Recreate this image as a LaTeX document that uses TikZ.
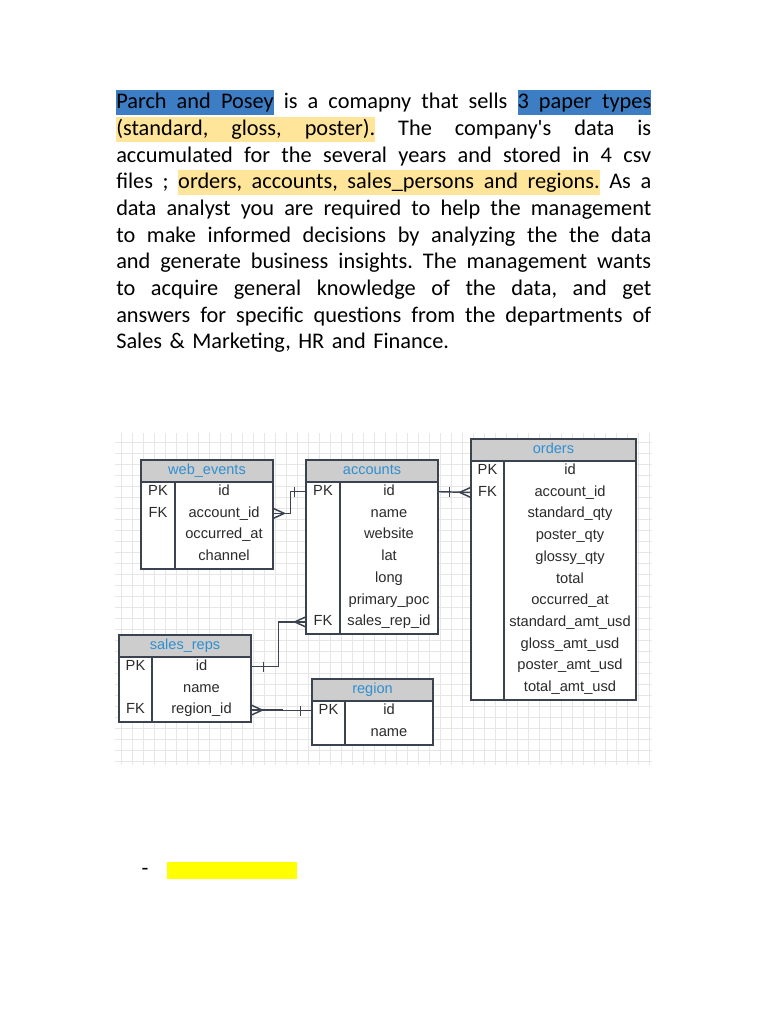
\documentclass[tikz,border=0pt]{standalone}
\usepackage{fontspec}
\setmainfont{Carlito}[Ligatures=TeXOff]
\newfontfamily\tabfont{Liberation Sans}
\definecolor{hlblue}{HTML}{3C7DC4}
\definecolor{hlgold}{HTML}{FFE599}
\definecolor{marker}{HTML}{FFFF00}
\definecolor{gridline}{HTML}{E6E6E6}
\definecolor{tabborder}{HTML}{3B4350}
\definecolor{tabhead}{HTML}{CDCDCD}
\definecolor{titleblue}{HTML}{2F8FD0}
\definecolor{fieldtext}{HTML}{2B2B2B}
% justified lines with explicit gaps, highlighted words
\newcommand\hlcol{}
\newskip\gapskip
\DeclareRobustCommand\bodyfont{\fontsize{16.75}{20}\selectfont
    \gapskip=\fontdimen2\font plus\fontdimen3\font minus\fontdimen4\font\relax}
\newcommand\hlword[1]{\setbox0\hbox{#1}\rlap{\color{\hlcol}\vrule width\wd0 height14pt depth4.5pt}\box0\relax}
\newcommand\hlgap{{\color{\hlcol}\leaders\vrule height14pt depth4.5pt\hskip\gapskip}}
\def\hlsplit#1 #2\relax{\hlword{#1}\ifx\relax#2\relax\else\hlgap\hlsplit#2\relax\fi}
\newcommand\hlseg[2]{\def\hlcol{#1}\hlsplit#2 \relax}
\def\jsplit#1 #2\relax{#1\ifx\relax#2\relax\else\hskip\gapskip\jsplit#2\relax\fi}
\newcommand\jline[1]{\hbox to 401.25pt{\jsplit#1 \relax}}

\begin{document}
\begin{tikzpicture}[
    x=0.75pt, y=-0.75pt,
    tabline/.style={draw=tabborder, line width=1.5pt},
    conn/.style={draw=tabborder, line width=1.1pt},
    tablehead/.style={font=\tabfont\fontsize{10.9}{12}\selectfont, text=titleblue, inner sep=0pt, text height=8pt, text depth=2.3pt},
    keycell/.style={font=\tabfont\fontsize{11}{12}\selectfont, text=fieldtext, inner sep=0pt, text height=8pt, text depth=2.3pt},
    fieldcell/.style={keycell},
    bodytext/.style={font=\bodyfont, inner sep=0pt},
]
\def\rowh{21.7}
\useasboundingbox (0,0) rectangle (768,1024);
\fill[white] (0,0) rectangle (768,1024);

% intro text, one justified box per line
\node[bodytext, anchor=north west, text width=401.25pt] (intro) at (116,90) {%
\jline{\hlseg{hlblue}{Parch and Posey} is a comapny that sells \hlseg{hlblue}{3 paper types}}
\jline{\hlseg{hlgold}{(standard, gloss, poster).} The company's data is}
\jline{accumulated for the several years and stored in 4 csv}
\jline{files ; \hlseg{hlgold}{orders, accounts, sales{\_}persons and regions.} As a}
\jline{data analyst you are required to help the management}
\jline{to make informed decisions by analyzing the the data}
\jline{and generate business insights. The management wants}
\jline{to acquire general knowledge of the data, and get}
\jline{answers for specific questions from the departments of}
\hbox{Sales \& Marketing, HR and Finance.}};

% grid
\foreach \gx in {121,132,...,650} {
    \draw[gridline, line width=0.4pt] (\gx,433) -- (\gx,765);
}
\foreach \gy in {442,453,...,765} {
    \draw[gridline, line width=0.4pt] (115,\gy) -- (652,\gy);
}

% tables
\foreach \tn/\tabl/\tabr/\tabd/\tabt/\nr/\title/\rows in {
    we/141/273/175/460/4/web\_events/{PK/id,FK/account\_id,/occurred\_at,/channel},
    acc/306/438/340/460/7/accounts/{PK/id,/name,/website,/lat,/long,/primary\_poc,FK/sales\_rep\_id},
    ord/471/636/504/439/11/orders/{PK/id,FK/account\_id,/standard\_qty,/poster\_qty,/glossy\_qty,/total,/occurred\_at,/standard\_amt\_usd,/gloss\_amt\_usd,/poster\_amt\_usd,/total\_amt\_usd},
    sr/119/251/152/635/3/sales\_reps/{PK/id,/name,FK/region\_id},
    reg/312/433/345/679/2/region/{PK/id,/name}} {
    \fill[white] (\tabl,\tabt) rectangle (\tabr,\tabt+\rowh+\rowh*\nr+0.5);
    \fill[tabhead] (\tabl,\tabt) rectangle (\tabr,\tabt+\rowh);
    \node[tablehead] (\tn) at ({(\tabl+\tabr)/2},\tabt+\rowh/2) {\title};
    \foreach \key/\fld [count=\k from 0] in \rows {
        \node[keycell, minimum width={(\tabd-\tabl)*0.75pt}] (\tn-\k-k) at ({(\tabl+\tabd)/2},\tabt+\rowh+10+\rowh*\k) {\key};
        \node[fieldcell, minimum width={(\tabr-\tabd)*0.75pt}] (\tn-\k-f) at ({(\tabd+\tabr)/2},\tabt+\rowh+10+\rowh*\k) {\fld};
    }
    \draw[tabline] (\tabl,\tabt+\rowh) -- (\tabr,\tabt+\rowh);
    \draw[tabline] (\tabd,\tabt+\rowh) -- (\tabd,\tabt+\rowh+\rowh*\nr+0.5);
    \draw[tabline] (\tabl,\tabt) rectangle (\tabr,\tabt+\rowh+\rowh*\nr+0.5);
}

% relations
\draw[conn] (we-1-f.east) -- ++(17,0) |- (acc-0-k.west);
\draw[conn] (we-1-f.east) ++(0,-5) -- ++(11,5) -- ++(-11,5);
\draw[conn] (acc-0-k.west) ++(-11,-5) -- ++(0,10);

\draw[conn] (acc-0-f.east) -- (ord-1-k.west);
\draw[conn] (acc-0-f.east) ++(11,-5) -- ++(0,10);
\draw[conn] (ord-1-k.west) ++(0,-5) -- ++(-11,5) -- ++(11,5);

\draw[conn] (sr-0-f.east) -- ++(27,0) |- (acc-6-k.west);
\draw[conn] (sr-0-f.east) ++(12,-5) -- ++(0,10);
\draw[conn] (acc-6-k.west) ++(0,-5) -- ++(-11,5) -- ++(11,5);

\draw[conn] (sr-2-f.east) -- ++(31,0) |- (reg-0-k.west);
\draw[conn] (sr-2-f.east) ++(0,-5) -- ++(11,5) -- ++(-11,5);
\draw[conn] (reg-0-k.west) ++(-11,-5) -- ++(0,10);

% footer
\node[bodytext] (dash) at (145,872) {-};
\fill[marker] (167,862) rectangle (297,879);
\end{tikzpicture}
\end{document}
